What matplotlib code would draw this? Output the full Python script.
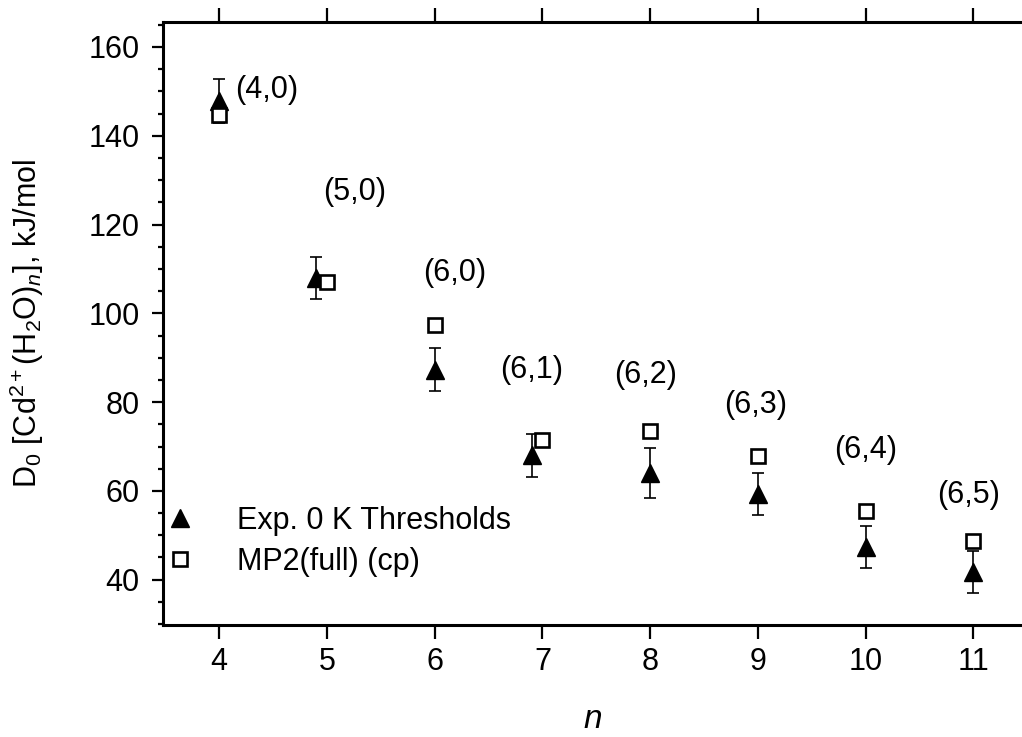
import matplotlib
matplotlib.use('Agg')
import matplotlib.pyplot as plt
from matplotlib.ticker import MultipleLocator

plt.rcParams['font.family'] = ['Liberation Sans', 'DejaVu Sans']
plt.rcParams['mathtext.fontset'] = 'custom'
plt.rcParams['mathtext.rm'] = 'Liberation Sans'
plt.rcParams['mathtext.it'] = 'Liberation Sans:italic'

# experimental 0 K thresholds (x slightly offset where the squares overlap)
n_exp = [4.0, 4.9, 6.0, 6.9, 8.0, 9.0, 10.0, 11.0]
d0_exp = [147.8, 108.0, 87.3, 68.0, 64.0, 59.3, 47.4, 41.7]
err_exp = [5.0, 4.8, 4.8, 4.9, 5.7, 4.7, 4.8, 4.7]

# MP2(full) (cp) theory
n_mp2 = [4, 5, 6, 7, 8, 9, 10, 11]
d0_mp2 = [144.7, 107.0, 97.3, 71.4, 73.6, 67.9, 55.4, 48.8]

# (m,k) structure labels
labels = ['(4,0)', '(5,0)', '(6,0)', '(6,1)', '(6,2)', '(6,3)', '(6,4)', '(6,5)']
label_x = [4.15, 5.26, 6.19, 6.9, 7.96, 8.98, 10.0, 10.95]
label_y = [150.2, 127.4, 109.0, 87.3, 86.0, 79.4, 69.2, 59.0]

fig = plt.figure(figsize=(10.22, 7.37), dpi=100)
ax = fig.add_axes([0.1595, 0.152, 0.8405, 0.818])

ax.errorbar(n_exp, d0_exp, yerr=err_exp, fmt='none', ecolor='k', elinewidth=1.2,
            capsize=4, capthick=1.2, zorder=2)
ax.plot(n_exp, d0_exp, linestyle='None', marker='^', markersize=13, color='k',
        label='Exp. 0 K Thresholds', zorder=3)
ax.plot(n_mp2, d0_mp2, linestyle='None', marker='s', markersize=10.5,
        markerfacecolor='white', markeredgecolor='k', markeredgewidth=1.9,
        label='MP2(full) (cp)', zorder=4)

for i in range(len(labels)):
    ha = 'left' if i == 0 else 'center'
    ax.text(label_x[i], label_y[i], labels[i], fontsize=22, ha=ha, va='center')

ax.set_xlim(3.48, 11.45)
ax.set_ylim(29.8, 165.6)
ax.set_xticks(n_mp2)
ax.yaxis.set_major_locator(MultipleLocator(20))
ax.yaxis.set_minor_locator(MultipleLocator(5))
ax.set_yticks(range(40, 161, 20))

ax.spines['right'].set_visible(False)
for s in ['left', 'bottom', 'top']:
    ax.spines[s].set_linewidth(2.2)

ax.tick_params(axis='x', which='major', direction='out', length=10, width=1.6,
               top=True, labeltop=False, labelsize=22, pad=6)
ax.tick_params(axis='y', which='major', direction='out', length=8, width=1.6,
               labelsize=22, pad=9)
ax.tick_params(axis='y', which='minor', direction='out', length=3.5, width=1.6)

ax.set_xlabel(r'$n$', fontsize=24, labelpad=19)
ax.set_ylabel(r'D$_0$ [Cd$^{2+}$(H$_2$O)$_n$], kJ/mol', fontsize=22, labelpad=30)

ax.legend(loc='upper left', bbox_to_anchor=(-0.012, 0.218), frameon=False,
          fontsize=22, handlelength=1.0, handletextpad=1.35, labelspacing=0.37,
          borderaxespad=0.0, numpoints=1)

fig.savefig('out.png', dpi=100)
